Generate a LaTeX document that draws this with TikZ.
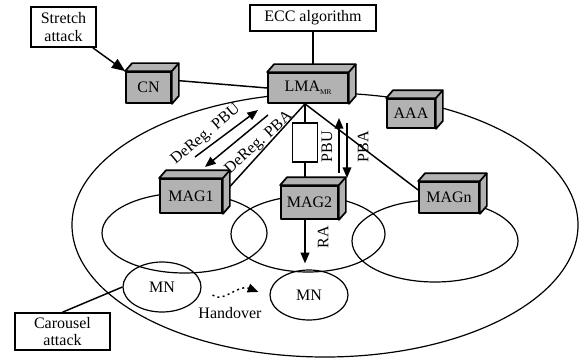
\documentclass[tikz,border=0pt]{standalone}
\usepackage{fontspec}
\setmainfont{Liberation Serif}
\usetikzlibrary{shapes.geometric,backgrounds,arrows.meta}

\definecolor{unitgray}{gray}{0.7}

% top and side faces of a network box
\newcommand{\unitfaces}[1]{%
	\filldraw[netunit] (#1.north west) -- ++(7,-8) -- ([shift={(7,-8)}]#1.north east)
		-- ([shift={(7,-8)}]#1.south east) -- (#1.south east) -- (#1.north east) -- cycle;
	\draw[netunit] (#1.north east) -- ++(7,-8);
}

\begin{document}
\begin{tikzpicture}[x=0.75pt, y=-0.75pt,
	txt/.style={font=\fontsize{12}{13}\selectfont},
	attackbox/.style={txt, draw, line width=1.2pt, fill=white, align=center, inner sep=0pt},
	netunit/.style={txt, draw, line width=1.3pt, fill=unitgray, inner sep=0pt, line join=round},
	cell/.style={line width=0.9pt},
	link/.style={line width=1.1pt},
	msg/.style={line width=1.1pt, -{Triangle[length=8pt,width=6.5pt]}},
	mn/.style={txt, ellipse, draw, line width=0.9pt, minimum width=58.5pt, minimum height=37.5pt, inner sep=0pt}]

	\useasboundingbox (0,0) rectangle (581,360);

	\node[attackbox, minimum width=48.75pt, minimum height=30pt] (stretch) at (63.5,27) {Stretch\\attack};
	\node[attackbox, minimum width=94.5pt, minimum height=19.5pt] (ecc) at (313,18) {ECC algorithm};
	\node[attackbox, minimum width=71.25pt, minimum height=27.75pt] (carousel) at (62.5,331.5) {Carousel\\attack};

	\node[netunit, minimum width=33.75pt, minimum height=23.25pt] (cn) at (148.5,87.5) {CN};
	\unitfaces{cn}
	\node[netunit, minimum width=60pt, minimum height=22.5pt] (lma) at (308,88) {LMA\raisebox{-0.4ex}{\fontsize{5.5}{6}\selectfont MR}};
	\unitfaces{lma}
	\node[netunit, minimum width=36pt, minimum height=21.75pt] (aaa) at (411,113.5) {AAA};
	\unitfaces{aaa}
	\node[netunit, minimum width=46.5pt, minimum height=25.5pt] (mag1) at (191,196) {MAG1};
	\unitfaces{mag1}
	\node[netunit, minimum width=42.75pt, minimum height=24.75pt] (mag2) at (309.5,202.5) {MAG2};
	\unitfaces{mag2}
	\node[netunit, minimum width=45pt, minimum height=23.25pt] (magn) at (449,197.5) {MAGn};
	\unitfaces{magn}

	\node[mn] (mnA) at (162,287) {MN};
	\node[mn] (mnB) at (309,295) {MN};

	\coordinate (hub) at ([shift={(-3,0)}]lma.south);

	\begin{pgfonlayer}{background}
		\draw[cell] (325,225) ellipse [x radius=253, y radius=132];
		\draw[cell] (184.5,233) ellipse [x radius=82.5, y radius=40];
		\draw[cell] (308,234) ellipse [x radius=77, y radius=38];
		\draw[cell] (435,241) ellipse [x radius=83, y radius=41];

		\draw[link] (hub) -- ([shift={(3,-5)}]mag1.east);
		\draw[link] (hub) -- (hub |- mag2.north);
		\draw[link] (hub) -- ([shift={(0,-7.5)}]magn.west);
		\draw[link] ([shift={(5,-7)}]cn.east) -- (lma.west);
		\draw[link] (ecc.south) -- (ecc.south |- lma.north);
		\draw[link] (carousel.north) -- (mnA.west);
	\end{pgfonlayer}

	\node[draw, fill=white, link, minimum width=18.75pt, minimum height=29.25pt] (tunnel) at (305,142.5) {};

	\draw[msg, -{Triangle[length=10pt,width=8pt]}] ([shift={(-4,0)}]stretch.south east) -- (cn.north west);

	% signalling
	\coordinate (dpbuS) at (195,157);
	\coordinate (dpbuE) at (258,110);
	\coordinate (dpbaS) at (268,115);
	\coordinate (dpbaE) at (205,167);
	\coordinate (pbuS) at (339,173);
	\coordinate (pbuE) at (339,118);
	\coordinate (pbaS) at (347,123);
	\coordinate (pbaE) at (347,178);
	\draw[msg] (dpbuS) -- (dpbuE);
	\draw[msg] (dpbaS) -- (dpbaE);
	\draw[msg] (pbuS) -- (pbuE);
	\draw[msg] (pbaS) -- (pbaE);
	\draw[msg] ([shift={(-4.5,0)}]mag2.south) -- ([shift={(-4,-6)}]mnB.north);

	\node[txt, rotate=40] (lbldpbu) at (206,135) {DeReg. PBU};
	\node[txt, rotate=42] (lbldpba) at (259,143) {DeReg. PBA};
	\node[txt, rotate=90] (lblpbu) at (327,147) {PBU};
	\node[txt, rotate=90] (lblpba) at (363,147) {PBA};
	\node[txt, rotate=90] (lblra) at (323,237) {RA};

	% handover
	\draw[line width=1.1pt, dash pattern=on 1.5pt off 2.5pt, -{Triangle[length=8pt,width=6.5pt]}]
		([shift={(11,8)}]mnA.east) .. controls (222,304) and (238,284) .. ([shift={(-11,-3)}]mnB.west);
	\node[txt] (lblho) at (230,313) {Handover};

\end{tikzpicture}
\end{document}
